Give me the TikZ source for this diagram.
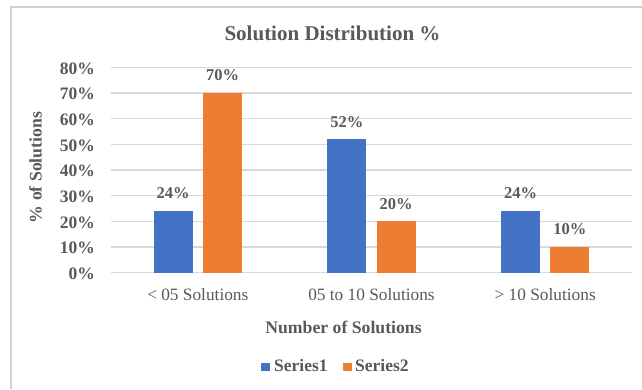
\documentclass[tikz,border=0pt]{standalone}
\usepackage{fontspec}
\setmainfont{Liberation Serif}
\definecolor{txtgray}{HTML}{595959}
\definecolor{gridgray}{HTML}{D9D9D9}
\definecolor{frameline}{HTML}{D0D0D0}
\definecolor{serone}{HTML}{4472C4}
\definecolor{sertwo}{HTML}{ED7D31}
\tikzset{
  gridline/.style={draw=gridgray, line width=1.2pt},
  ticklabel/.style={anchor=east, text=txtgray, font=\fontsize{17.5}{20}\selectfont\bfseries, inner sep=0pt},
  catlabel/.style={text=txtgray, font=\fontsize{17.3}{20}\selectfont, inner sep=0pt},
  datalabel/.style={text=txtgray, font=\fontsize{16.5}{20}\selectfont\bfseries, inner sep=0pt},
  axistitle/.style={text=txtgray, font=\fontsize{17.7}{20}\selectfont\bfseries, inner sep=0pt},
  legendtext/.style={anchor=west, text=txtgray, font=\fontsize{17.5}{20}\selectfont\bfseries, inner sep=0pt},
  barone/.style={fill=serone},
  bartwo/.style={fill=sertwo},
}
\begin{document}
\begin{tikzpicture}[x=1pt, y=-1pt]
\useasboundingbox (0,0) rectangle (642,389);
\fill[white] (0,0) rectangle (642,389);
% chart frame (open to the right and bottom)
\draw[frameline, line width=1.5pt] (11,389) -- (11,7) -- (642,7);

% title
\node[text=txtgray, font=\fontsize{21}{24}\selectfont\bfseries, inner sep=0pt] (title) at (332.5,33.5) {Solution Distribution \%};

% horizontal gridlines and value axis labels
\foreach \v in {0,10,...,80} {
  \coordinate (gl\v) at (111,{272.7-2.567*\v});
  \coordinate (gr\v) at (632,{272.7-2.567*\v});
  \draw[gridline] (gl\v) -- (gr\v);
  \node[ticklabel] (tick\v) at (95,{272.7-2.567*\v+1}) {\v\%};
}

% bars: category centre, series 1 value, series 2 value, category text
\foreach \c/\a/\b/\t [count=\i] in {197.8/24/70/{< 05 Solutions}, 371.5/52/20/{05 to 10 Solutions}, 545.2/24/10/{> 10 Solutions}} {
  \fill[barone] ({\c-44.2},272.7) rectangle ({\c-5.2},{272.7-2.567*\a});
  \fill[bartwo] ({\c+5.2},272.7) rectangle ({\c+44.2},{272.7-2.567*\b});
  \node[datalabel] (la\i) at ({\c-24.7},{272.7-2.567*\a-17.5}) {\a\%};
  \node[datalabel] (lb\i) at ({\c+24.7},{272.7-2.567*\b-17.5}) {\b\%};
  \node[catlabel] (cat\i) at (\c,294.5) {\t};
}

% axis titles
\node[axistitle] (xtitle) at (343.5,327) {Number of Solutions};
\node[axistitle, rotate=90] (ytitle) at (35.5,167.5) {\% of Solutions};

% legend
\node[barone, minimum size=8.5pt, inner sep=0pt] (keyone) at (265.5,367) {};
\node[legendtext] (textone) at (274,366) {Series1};
\node[bartwo, minimum size=8.5pt, inner sep=0pt] (keytwo) at (347.5,367) {};
\node[legendtext] (texttwo) at (355,366) {Series2};
\end{tikzpicture}
\end{document}
